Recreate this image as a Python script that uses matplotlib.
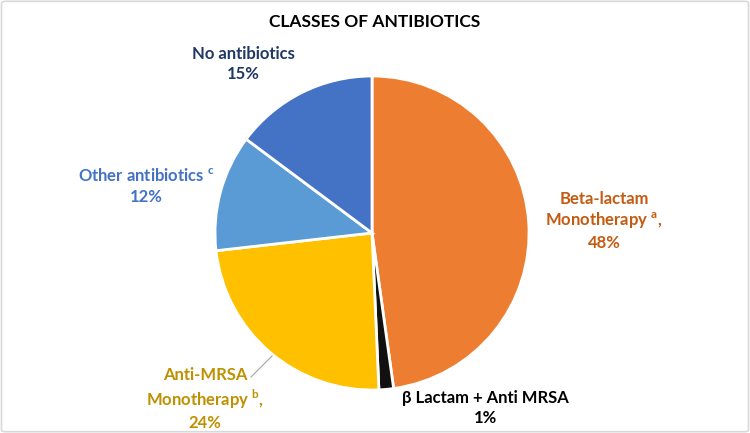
import matplotlib
matplotlib.use("Agg")
import matplotlib.pyplot as plt
from matplotlib.patches import FancyBboxPatch

plt.rcParams["mathtext.fontset"] = "custom"
plt.rcParams["mathtext.rm"] = "Lato"
plt.rcParams["mathtext.bf"] = "Lato:bold"

# ---- data ----
categories = ["Beta-lactam Monotherapy", "β Lactam + Anti MRSA", "Anti-MRSA Monotherapy",
              "Other antibiotics", "No antibiotics"]
values = [47.8, 1.5, 23.9, 12.0, 14.8]
label_texts = ["Beta-lactam\nMonotherapy $^{\\mathbf{a}}$,\n48%",
               "β Lactam + Anti MRSA\n1%",
               "Anti-MRSA\nMonotherapy $^{\\mathbf{b}}$,\n24%",
               "Other antibiotics $^{\\mathbf{c}}$\n12%",
               "No antibiotics\n15%"]
colors = ["#ED7D31", "#111111", "#FFC000", "#5B9BD5", "#4472C4"]
label_colors = ["#C55A11", "#000000", "#BF9000", "#4472C4", "#203864"]
explode = [0.035, 0, 0, 0, 0]
title = "CLASSES OF ANTIBIOTICS"

W, H = 750, 433
fig = plt.figure(figsize=(7.5, 4.33), dpi=100)
ax = fig.add_axes([0, 0, 1, 1])

cx, cy, r = 372, H - 233, 157
ax.pie(values, colors=colors, explode=explode, startangle=90, counterclock=False,
       center=(cx, cy), radius=r, frame=True,
       wedgeprops=dict(edgecolor="white", linewidth=2))
ax.set_xlim(0, W)
ax.set_ylim(0, H)
ax.set_aspect("equal")
ax.axis("off")

fam = ["Lato", "DejaVu Sans"]

def px(x, y):
    return (x / W, 1 - y / H)

label_pos = [(604, 221), (485, 408), (205, 399), (146, 186), (243, 64)]
for txt, col, (x, y) in zip(label_texts, label_colors, label_pos):
    fig.text(*px(x, y), txt, ha="center", va="center", multialignment="center",
             color=col, fontsize=12, fontweight="bold", family=fam, linespacing=1.3)

# leader line for Anti-MRSA
ax.plot([251, 272], [H - 377, H - 356], color="#a6a6a6", lw=0.8)

fig.text(*px(375, 22), title, ha="center", va="center", fontsize=12.5,
         fontweight="bold", family=fam, color="black")

border = FancyBboxPatch((0.002, 0.003), 0.996, 0.994, boxstyle="round,pad=0,rounding_size=0.005",
                        transform=fig.transFigure, fill=False, edgecolor="#d9d9d9", lw=1.2)
fig.patches.append(border)

fig.savefig("out.png", dpi=100)
